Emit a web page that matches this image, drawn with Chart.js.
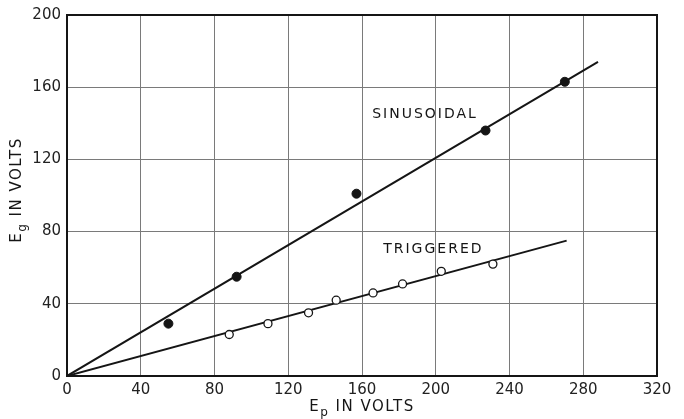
<!DOCTYPE html>
<html lang="en">
<head>
<meta charset="UTF-8"/>
<title>Eg vs Ep</title>
<script src="https://cdn.jsdelivr.net/npm/chart.js"></script>
<style>
  html, body { margin: 0; padding: 0; background: #fff; }
  #wrap { width: 684px; height: 419px; }
</style>
</head>
<body>
<div id="wrap"><canvas id="c" width="684" height="419"></canvas></div>
<script>
const sinX = [55, 92, 157, 227, 270];
const sinY = [29, 55, 101, 136, 163];
const trigX = [88, 109, 131, 146, 166, 182, 203, 231];
const trigY = [23, 29, 35, 42, 46, 51, 58, 62];
// drawn fit lines
const sinFitX = [0, 288];
const sinFitY = [0, 174];
const trigFitX = [0, 271];
const trigFitY = [0, 75];
// axis ranges
const xTicks = [0, 40, 80, 120, 160, 200, 240, 280, 320];
const yTicks = [0, 40, 80, 120, 160, 200];
// curve labels, placed in data units
const curveLabels = [
  { text: 'SINUSOIDAL', x: 165.5, y: 145 },
  { text: 'TRIGGERED', x: 171.5, y: 70 }
];

const pts = (xs, ys) => xs.map((x, i) => ({ x, y: ys[i] }));
const INK = '#151515';
const FONT = '"DejaVu Sans", sans-serif';

const overlay = {
  id: 'overlay',
  beforeDatasetsDraw(chart) {
    const { ctx, chartArea: a } = chart;
    ctx.save();
    ctx.strokeStyle = INK;
    ctx.lineWidth = 2;
    ctx.strokeRect(a.left, a.top, a.right - a.left, a.bottom - a.top);
    ctx.restore();
  },
  afterDraw(chart) {
    const { ctx, chartArea: a, scales } = chart;
    ctx.save();
    ctx.fillStyle = INK;
    ctx.letterSpacing = '2px';
    ctx.font = '14px ' + FONT;
    ctx.textBaseline = 'middle';
    ctx.textAlign = 'left';
    curveLabels.forEach(l => {
      ctx.fillText(l.text, scales.x.getPixelForValue(l.x), scales.y.getPixelForValue(l.y));
    });

    // axis titles with subscripts
    function title(main, sub, rest, cx, cy, rot) {
      ctx.save();
      ctx.translate(cx, cy);
      ctx.rotate(rot);
      ctx.letterSpacing = '1.5px';
      ctx.font = '15px ' + FONT;
      const w1 = ctx.measureText(main).width;
      ctx.font = '12px ' + FONT;
      const w2 = ctx.measureText(sub).width;
      ctx.font = '15px ' + FONT;
      const w3 = ctx.measureText(rest).width;
      let x = -(w1 + w2 + w3) / 2;
      ctx.textAlign = 'left';
      ctx.textBaseline = 'alphabetic';
      ctx.fillText(main, x, 5); x += w1;
      ctx.font = '12px ' + FONT;
      ctx.fillText(sub, x, 10); x += w2;
      ctx.font = '15px ' + FONT;
      ctx.fillText(rest, x, 5);
      ctx.restore();
    }
    title('E', 'p', ' IN VOLTS', (a.left + a.right) / 2, 406, 0);
    title('E', 'g', ' IN VOLTS', 16, 190, -Math.PI / 2);
    ctx.restore();
  }
};

new Chart(document.getElementById('c'), {
  type: 'scatter',
  data: {
    datasets: [
      { data: pts(sinFitX, sinFitY), showLine: true, borderColor: INK, borderWidth: 2, pointRadius: 0, order: 2 },
      { data: pts(trigFitX, trigFitY), showLine: true, borderColor: INK, borderWidth: 2, pointRadius: 0, order: 2 },
      { data: pts(sinX, sinY), pointRadius: 4.5, pointBackgroundColor: INK, pointBorderColor: INK, pointBorderWidth: 1, order: 1 },
      { data: pts(trigX, trigY), pointRadius: 4, pointBackgroundColor: '#fff', pointBorderColor: INK, pointBorderWidth: 1.3, order: 1 }
    ]
  },
  options: {
    responsive: false,
    animation: false,
    layout: { padding: { top: 15, right: 27, left: 0, bottom: 0 } },
    plugins: { legend: { display: false }, tooltip: { enabled: false } },
    scales: {
      x: {
        type: 'linear', min: 0, max: 320,
        afterBuildTicks: s => { s.ticks = xTicks.map(v => ({ value: v })); },
        afterFit: s => { s.height = 43; },
        grid: { color: '#7a7a7a', lineWidth: 1, drawTicks: false },
        border: { display: false },
        ticks: { color: '#222', font: { family: FONT, size: 15 }, padding: 5, maxRotation: 0 }
      },
      y: {
        type: 'linear', min: 0, max: 200,
        afterBuildTicks: s => { s.ticks = yTicks.map(v => ({ value: v })); },
        afterFit: s => { s.width = 67; },
        grid: { color: '#7a7a7a', lineWidth: 1, drawTicks: false },
        border: { display: false },
        ticks: { color: '#222', font: { family: FONT, size: 15 }, padding: 6 }
      }
    }
  },
  plugins: [overlay]
});
</script>
</body>
</html>
